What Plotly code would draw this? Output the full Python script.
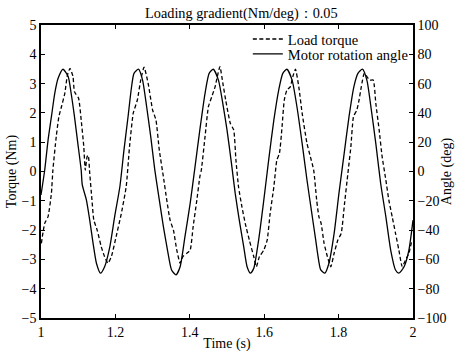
import plotly.graph_objects as go

# Motor rotation angle (deg)
angle_t = [1.000, 1.010, 1.019, 1.028, 1.037, 1.046, 1.059, 1.073, 1.081, 1.090,
           1.099, 1.108, 1.111, 1.122, 1.131, 1.140, 1.149, 1.160, 1.171, 1.185,
           1.198, 1.212, 1.223, 1.234, 1.243, 1.250, 1.262, 1.273, 1.284, 1.295,
           1.306, 1.318, 1.329, 1.340, 1.351, 1.363, 1.374, 1.387, 1.401, 1.414,
           1.427, 1.441, 1.452, 1.463, 1.477, 1.489, 1.500, 1.512, 1.522, 1.533,
           1.545, 1.554, 1.563, 1.572, 1.585, 1.599, 1.612, 1.626, 1.639, 1.650,
           1.661, 1.675, 1.688, 1.702, 1.715, 1.728, 1.738, 1.743, 1.752, 1.763,
           1.774, 1.788, 1.801, 1.815, 1.828, 1.841, 1.852, 1.864, 1.876, 1.888,
           1.900, 1.913, 1.927, 1.940, 1.953, 1.962, 1.976, 1.989, 2.000]
angle_deg = [-16, 1, 21.4, 37.4, 53.4, 63.6, 69.8, 64.8, 53.4, 37.4,
             19.2, 1, -9.2, -19.4, -33.2, -49, -62.6, -69.4, -65, -51.4,
             -30.8, -10.4, 14.6, 37.4, 57, 67, 69.8, 62.4, 44.2, 23.8,
             1, -19.4, -37.6, -53.6, -67.2, -70.6, -65, -44.4, -21.8, 3.2,
             28.4, 53.4, 67, 69.8, 62.4, 46, 28.4, 5.6, -14.8, -33.2,
             -51.4, -65, -69.4, -66, -46.8, -19.4, 7.8, 35.2, 55.6, 67,
             69.8, 62.4, 44.2, 19.2, -5.8, -28.6, -46, -55, -67.2, -69.4,
             -62.6, -42.2, -14.8, 12.4, 37.4, 57.8, 67, 69.8, 62.4, 42,
             19.2, -8, -30.8, -53.6, -67.2, -69.4, -65, -53.6, -33.2]

# Load torque (Nm)
torque_t = [1.001, 1.010, 1.019, 1.028, 1.032, 1.041, 1.048, 1.055, 1.064, 1.071,
            1.078, 1.086, 1.090, 1.101, 1.108, 1.115, 1.119, 1.124, 1.127, 1.131,
            1.137, 1.142, 1.151, 1.162, 1.171, 1.180, 1.189, 1.202, 1.216, 1.229,
            1.238, 1.248, 1.259, 1.268, 1.277, 1.288, 1.300, 1.309, 1.318, 1.329,
            1.338, 1.347, 1.356, 1.365, 1.374, 1.381, 1.392, 1.401, 1.409, 1.419,
            1.427, 1.431, 1.441, 1.450, 1.459, 1.468, 1.474, 1.481, 1.489, 1.497,
            1.509, 1.518, 1.524, 1.531, 1.540, 1.549, 1.560, 1.572, 1.579, 1.587,
            1.599, 1.608, 1.616, 1.626, 1.634, 1.641, 1.648, 1.654, 1.661, 1.670,
            1.677, 1.684, 1.693, 1.702, 1.715, 1.724, 1.733, 1.741, 1.747, 1.753,
            1.761, 1.770, 1.779, 1.788, 1.798, 1.807, 1.816, 1.825, 1.833, 1.840,
            1.849, 1.855, 1.861, 1.869, 1.876, 1.884, 1.893, 1.900, 1.909, 1.917,
            1.927, 1.935, 1.944, 1.953, 1.962, 1.971, 1.980, 1.989, 1.997]
torque_nm = [-2.45, -1.77, -1.54, -0.74, 0.05, 1.19, 1.87, 2.21, 2.67, 3.29,
             3.52, 3.24, 2.72, 2.5, 1.76, 0.85, 0.05, 0.51, 0.55, -0.06,
             -0.97, -1.66, -2.0, -2.57, -2.91, -3.13, -2.91, -2.22, -1.43, -0.52,
             0.85, 1.99, 2.44, 3.12, 3.56, 3.01, 2.1, 1.76, 0.73, -0.18,
             -0.97, -1.66, -2.0, -2.68, -3.13, -2.91, -2.79, -2.68, -1.88, -0.97,
             -0.18, 0.05, 1.19, 2.21, 2.55, 2.89, 3.24, 3.58, 3.0, 2.4,
             1.64, 1.42, 0.39, -0.52, -1.2, -1.77, -2.34, -2.91, -3.25, -2.91,
             -2.68, -2.34, -1.43, -0.52, 0.39, 0.62, 1.53, 2.44, 2.78, 2.89,
             3.24, 3.49, 2.89, 1.99, 0.96, 0.51, 0.05, -0.97, -1.54, -1.77,
             -2.45, -2.91, -3.25, -2.79, -2.34, -2.11, -1.09, -0.06, 0.85, 1.87,
             2.1, 2.44, 2.89, 3.35, 3.24, 3.12, 3.12, 2.33, 1.42, 0.51,
             -0.29, -0.97, -1.54, -2.11, -2.68, -3.25, -3.02, -2.79, -2.34]

x_ticks = [1, 1.2, 1.4, 1.6, 1.8, 2]
x_tick_text = ["1", "1.2", "1.4", "1.6", "1.8", "2"]
y1_ticks = [-5, -4, -3, -2, -1, 0, 1, 2, 3, 4, 5]
y2_ticks = [-100, -80, -60, -40, -20, 0, 20, 40, 60, 80, 100]

FONT = "Liberation Serif"

fig = go.Figure()
fig.add_trace(go.Scatter(x=torque_t, y=torque_nm, mode="lines", name="Load torque",
                         line=dict(color="black", width=1.3, dash="4px,2.5px",
                                   shape="spline", smoothing=0.5),
                         yaxis="y", legend="legend"))
fig.add_trace(go.Scatter(x=angle_t, y=angle_deg, mode="lines", name="Motor rotation angle",
                         line=dict(color="black", width=1.3, shape="spline", smoothing=0.6),
                         yaxis="y2", legend="legend2"))

axis_common = dict(showgrid=False, zeroline=False, showline=True, linecolor="black",
                   linewidth=1.5, ticks="inside", ticklen=4, tickwidth=1, tickcolor="black",
                   automargin=False,
                   tickfont=dict(family=FONT, size=14, color="black"))

legend_common = dict(xanchor="left", yanchor="middle", bgcolor="rgba(255,255,255,0)",
                     borderwidth=0, font=dict(family=FONT, size=14.5, color="black"),
                     itemwidth=30, tracegroupgap=0)

fig.update_layout(
    width=455, height=353,
    margin=dict(l=41, r=42, t=25, b=35, autoexpand=False),
    paper_bgcolor="white", plot_bgcolor="white",
    font=dict(family=FONT, size=14, color="black"),
    title=dict(text="Loading gradient(Nm/deg)：0.05", x=145 / 455, xanchor="left",
               y=0.963, yanchor="middle", font=dict(family=FONT, size=14.3, color="black")),
    xaxis=dict(range=[1, 2], tickvals=x_ticks, ticktext=x_tick_text, mirror="ticks",
               title=dict(text="Time (s)", standoff=0, font=dict(family=FONT, size=14)),
               **axis_common),
    yaxis=dict(range=[-5, 5], tickvals=y1_ticks,
               title=dict(text="Torque (Nm)", standoff=2, font=dict(family=FONT, size=14)),
               **axis_common),
    yaxis2=dict(range=[-100, 100], tickvals=y2_ticks, overlaying="y", side="right",
                title=dict(text="Angle (deg)", standoff=2, font=dict(family=FONT, size=14)),
                **axis_common),
    legend=dict(x=0.556, y=0.952, **legend_common),
    legend2=dict(x=0.556, y=0.901, **legend_common),
    showlegend=True,
)

fig.write_html("out.html")
